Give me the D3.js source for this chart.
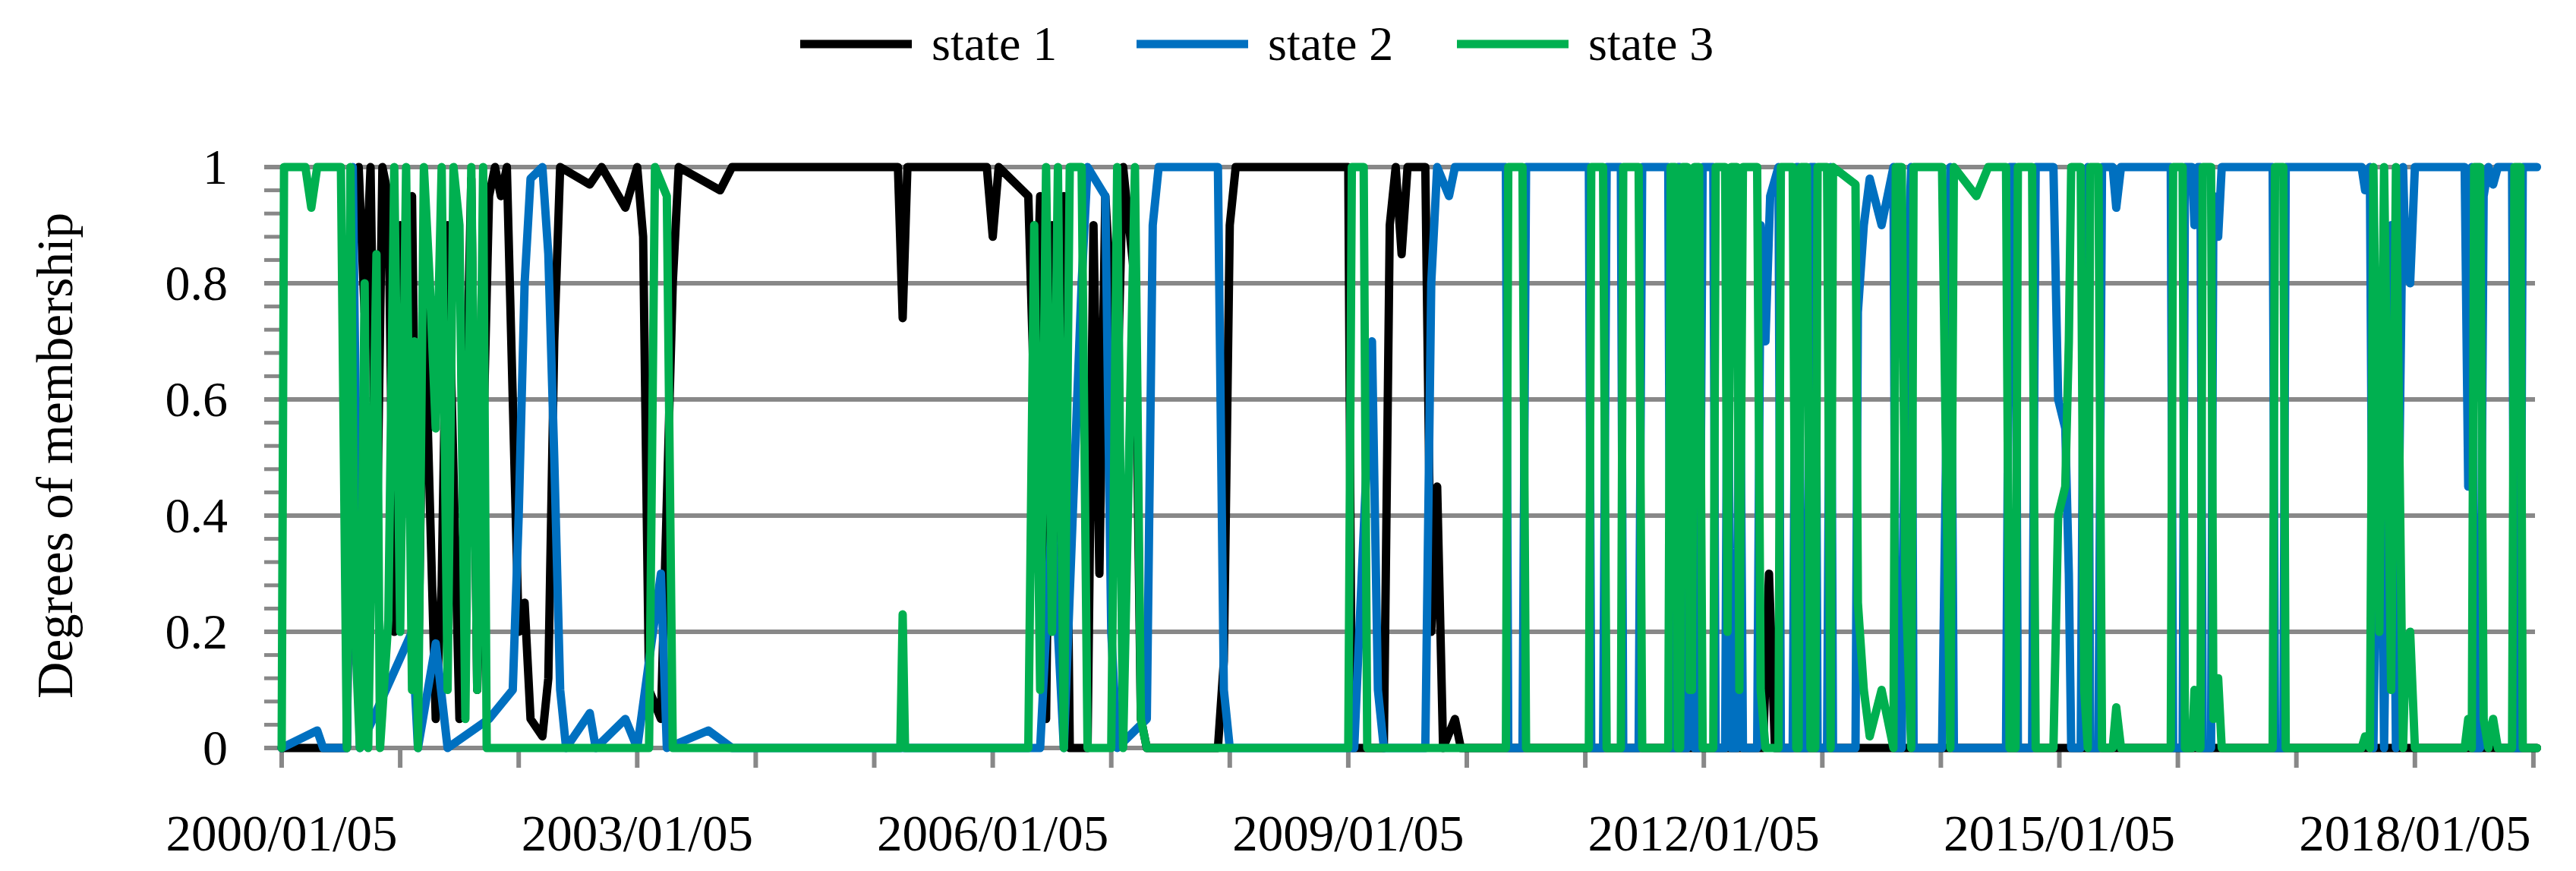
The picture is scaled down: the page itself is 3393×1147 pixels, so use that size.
<!DOCTYPE html>
<html><head><meta charset="utf-8">
<script src="https://cdn.jsdelivr.net/npm/d3@7"></script>
<style>body{margin:0;background:#fff}svg{display:block}</style>
</head><body>
<script>
const seriesNames = ["state 1","state 2","state 3"];
const seriesColors = ["#000000","#0070C0","#00B050"];
const yTicks = [0,0.2,0.4,0.6,0.8,1];
const xTickYears = [2000,2003,2006,2009,2012,2015,2018];
// [fractional year, degree of membership]
const state1 = [[2000.0,0],[2000.55,0],[2000.6,0.9],[2000.65,1],[2000.7,0.75],[2000.75,1],[2000.8,0.3],[2000.85,1],[2000.9,0.95],[2000.95,0.2],[2001.0,0.9],[2001.05,0.5],[2001.1,0.95],[2001.15,0.1],[2001.2,0.8],[2001.3,0.05],[2001.35,0.28],[2001.4,0.9],[2001.5,0.05],[2001.6,0.98],[2001.65,0.1],[2001.75,0.95],[2001.8,1],[2001.85,0.95],[2001.9,1],[2001.95,0.6],[2002.0,0.2],[2002.05,0.25],[2002.1,0.05],[2002.2,0.02],[2002.25,0.12],[2002.3,0.7],[2002.35,1],[2002.6,0.97],[2002.7,1],[2002.9,0.93],[2003.0,1],[2003.05,0.88],[2003.1,0.1],[2003.2,0.05],[2003.3,0.8],[2003.35,1],[2003.7,0.96],[2003.8,1],[2005.2,1],[2005.24,0.74],[2005.28,1],[2005.95,1],[2006.0,0.88],[2006.05,1],[2006.3,0.95],[2006.35,0.6],[2006.4,0.95],[2006.45,0.05],[2006.5,0.9],[2006.55,0.2],[2006.6,0.95],[2006.65,0],[2006.8,0],[2006.85,0.9],[2006.9,0.3],[2006.95,0.95],[2007.05,0.6],[2007.1,1],[2007.2,0.8],[2007.25,0.05],[2007.3,0],[2007.9,0],[2007.95,0.15],[2008.0,0.9],[2008.05,1],[2009.0,1],[2009.03,0],[2009.3,0],[2009.35,0.9],[2009.4,1],[2009.45,0.85],[2009.5,1],[2009.65,1],[2009.7,0.2],[2009.75,0.45],[2009.8,0],[2009.9,0.05],[2009.95,0],[2012.5,0],[2012.55,0.3],[2012.6,0],[2019.03,0]];
const state2 = [[2000.0,0],[2000.3,0.03],[2000.35,0],[2000.55,0],[2000.6,1],[2000.63,0.5],[2000.66,0],[2001.1,0.2],[2001.15,0],[2001.3,0.18],[2001.4,0],[2001.75,0.05],[2001.95,0.1],[2002.0,0.4],[2002.05,0.8],[2002.1,0.98],[2002.2,1],[2002.25,0.85],[2002.3,0.5],[2002.35,0.1],[2002.4,0],[2002.6,0.06],[2002.65,0],[2002.9,0.05],[2003.0,0],[2003.2,0.3],[2003.25,0],[2003.6,0.03],[2003.8,0],[2006.4,0],[2006.5,0.4],[2006.6,0],[2006.75,0.8],[2006.8,1],[2006.95,0.95],[2007.0,0.2],[2007.05,0],[2007.3,0.05],[2007.35,0.9],[2007.4,1],[2007.9,1],[2007.95,0.1],[2008.0,0],[2009.05,0],[2009.2,0.7],[2009.25,0.1],[2009.3,0],[2009.65,0],[2009.7,0.8],[2009.75,1],[2009.85,0.95],[2009.9,1],[2010.33,1],[2010.35,0],[2010.47,0],[2010.5,1],[2011.03,1],[2011.05,0],[2011.15,0],[2011.18,1],[2011.3,1],[2011.32,0],[2011.45,0],[2011.48,1],[2011.7,1],[2011.72,0],[2011.76,0],[2011.78,1],[2011.8,1],[2011.82,0],[2011.86,0],[2011.88,0.9],[2011.9,0.9],[2011.92,0],[2011.96,0],[2011.99,1],[2012.08,1],[2012.1,0],[2012.18,0],[2012.2,0.8],[2012.23,0],[2012.28,0],[2012.3,0.9],[2012.33,0],[2012.45,0],[2012.48,0.9],[2012.52,0.7],[2012.56,0.95],[2012.63,1],[2012.65,0],[2012.75,0],[2012.78,1],[2012.8,1],[2012.82,0],[2012.87,0],[2012.9,1],[2012.94,1],[2012.96,0],[2013.04,0],[2013.07,1],[2013.09,0],[2013.28,0],[2013.3,0.75],[2013.35,0.9],[2013.4,0.98],[2013.5,0.9],[2013.6,1],[2013.62,0],[2013.67,0],[2013.7,0.7],[2013.75,1],[2013.77,0],[2014.01,0],[2014.04,0.45],[2014.08,1],[2014.11,0],[2014.55,0],[2014.58,1],[2014.63,1],[2014.65,0],[2014.77,0],[2014.8,1],[2014.95,1],[2014.99,0.6],[2015.05,0.55],[2015.08,0.3],[2015.1,0],[2015.18,0],[2015.21,0.9],[2015.24,1],[2015.26,0],[2015.33,0],[2015.36,1],[2015.45,1],[2015.48,0.93],[2015.52,1],[2015.94,1],[2015.96,0],[2016.04,0],[2016.06,1],[2016.12,1],[2016.14,0.9],[2016.17,1],[2016.19,1],[2016.21,0],[2016.28,0],[2016.3,0.95],[2016.34,0.88],[2016.37,1],[2016.8,1],[2016.82,0],[2016.89,0],[2016.91,1],[2017.55,1],[2017.58,0.96],[2017.62,1],[2017.65,0],[2017.7,0.8],[2017.74,0],[2017.8,0.9],[2017.84,0],[2017.9,1],[2017.92,0.85],[2017.96,0.8],[2018.0,1],[2018.42,1],[2018.45,0.45],[2018.48,1],[2018.5,0],[2018.55,0],[2018.58,0.95],[2018.62,1],[2018.66,0.97],[2018.7,1],[2018.82,1],[2018.84,0],[2018.89,0],[2018.91,1],[2019.03,1]];
const state3 = [[2000.0,0],[2000.02,1],[2000.2,1],[2000.25,0.93],[2000.3,1],[2000.5,1],[2000.55,0],[2000.58,1],[2000.62,0.2],[2000.66,0],[2000.7,0.8],[2000.73,0],[2000.8,0.85],[2000.83,0],[2000.9,0.22],[2000.95,1],[2001.0,0.2],[2001.05,1],[2001.1,0.1],[2001.12,0.7],[2001.15,0],[2001.2,1],[2001.25,0.8],[2001.3,0.55],[2001.35,1],[2001.4,0.1],[2001.45,1],[2001.5,0.9],[2001.55,0.05],[2001.6,1],[2001.65,0.1],[2001.7,1],[2001.73,0],[2003.1,0],[2003.15,1],[2003.25,0.95],[2003.3,0],[2005.22,0],[2005.24,0.23],[2005.26,0],[2006.3,0],[2006.35,0.9],[2006.4,0.1],[2006.45,1],[2006.5,0.2],[2006.55,1],[2006.6,0],[2006.65,1],[2006.75,1],[2006.8,0],[2007.0,0],[2007.05,1],[2007.1,0],[2007.2,1],[2007.25,0.05],[2007.3,0],[2009.0,0],[2009.03,1],[2009.13,1],[2009.16,0],[2010.33,0],[2010.35,1],[2010.47,1],[2010.5,0],[2011.03,0],[2011.05,1],[2011.15,1],[2011.18,0],[2011.3,0],[2011.32,1],[2011.45,1],[2011.48,0],[2011.7,0],[2011.72,1],[2011.76,1],[2011.78,0],[2011.8,0],[2011.82,1],[2011.86,1],[2011.88,0.1],[2011.9,0.1],[2011.92,1],[2011.96,1],[2011.99,0],[2012.08,0],[2012.1,1],[2012.18,1],[2012.2,0.2],[2012.23,1],[2012.28,1],[2012.3,0.1],[2012.33,1],[2012.45,1],[2012.48,0.1],[2012.52,0],[2012.63,0],[2012.65,1],[2012.75,1],[2012.78,0],[2012.8,0],[2012.82,1],[2012.87,1],[2012.9,0],[2012.94,0],[2012.96,1],[2013.04,1],[2013.07,0],[2013.09,1],[2013.28,0.97],[2013.3,0.25],[2013.35,0.1],[2013.4,0.02],[2013.5,0.1],[2013.6,0],[2013.62,1],[2013.67,1],[2013.7,0.3],[2013.75,0],[2013.77,1],[2014.01,1],[2014.04,0.55],[2014.08,0],[2014.11,1],[2014.3,0.95],[2014.4,1],[2014.55,1],[2014.58,0],[2014.63,0],[2014.65,1],[2014.77,1],[2014.8,0],[2014.95,0],[2014.99,0.4],[2015.05,0.45],[2015.08,0.7],[2015.1,1],[2015.18,1],[2015.21,0.1],[2015.24,0],[2015.26,1],[2015.33,1],[2015.36,0],[2015.45,0],[2015.48,0.07],[2015.52,0],[2015.94,0],[2015.96,1],[2016.04,1],[2016.06,0],[2016.12,0],[2016.14,0.1],[2016.17,0],[2016.19,0],[2016.21,1],[2016.28,1],[2016.3,0.05],[2016.34,0.12],[2016.37,0],[2016.8,0],[2016.82,1],[2016.89,1],[2016.91,0],[2017.55,0],[2017.58,0.02],[2017.62,0],[2017.65,1],[2017.7,0.2],[2017.74,1],[2017.8,0.1],[2017.84,1],[2017.9,0],[2017.92,0.15],[2017.96,0.2],[2018.0,0],[2018.42,0],[2018.45,0.05],[2018.48,0],[2018.5,1],[2018.55,1],[2018.58,0.05],[2018.62,0],[2018.66,0.05],[2018.7,0],[2018.82,0],[2018.84,1],[2018.89,1],[2018.91,0],[2019.03,0]];
const allSeries = [state1, state2, state3];

const W = 3393, H = 1147;
const svg = d3.select("body").append("svg").attr("width", W).attr("height", H);
const FONT = "'Liberation Serif','DejaVu Serif',serif";
const x = d3.scaleLinear().domain([2000, 2019]).range([371, 371 + 156.1*19]);
const y = d3.scaleLinear().domain([0, 1]).range([985, 220]);
const xEnd = 3339;

const g = svg.append("g");
g.selectAll(".minor").data(d3.range(0, 26)).join("line")
  .attr("x1", 348).attr("x2", 371)
  .attr("y1", d => y(d*0.04)).attr("y2", d => y(d*0.04))
  .attr("stroke", "#888").attr("stroke-width", 5);
g.selectAll(".grid").data(yTicks).join("line")
  .attr("x1", 348).attr("x2", xEnd)
  .attr("y1", d => y(d)).attr("y2", d => y(d))
  .attr("stroke", "#888").attr("stroke-width", 6);
g.selectAll(".yl").data(yTicks).join("text")
  .attr("x", 300).attr("y", d => y(d)).attr("dy", "0.33em")
  .attr("text-anchor", "end").attr("font-family", FONT).attr("font-size", 66)
  .text(d => d3.format("~g")(d));
g.selectAll(".xt").data(d3.range(2000, 2020)).join("line")
  .attr("x1", d => x(d)).attr("x2", d => x(d))
  .attr("y1", 985).attr("y2", 1011).attr("stroke", "#888").attr("stroke-width", 6);
g.selectAll(".xl").data(xTickYears).join("text")
  .attr("x", d => x(d)).attr("y", 1120).attr("text-anchor", "middle")
  .attr("font-family", FONT).attr("font-size", 67)
  .text(d => d + "/01/05");
svg.append("text").attr("transform", "translate(95,600) rotate(-90)")
  .attr("text-anchor", "middle").attr("font-family", FONT).attr("font-size", 67)
  .text("Degrees of membership");

const line = d3.line().x(d => x(d[0])).y(d => y(d[1]));
allSeries.forEach((s, i) => {
  svg.append("path").attr("d", line(s)).attr("fill", "none")
    .attr("stroke", seriesColors[i]).attr("stroke-width", 11)
    .attr("stroke-linejoin", "round").attr("stroke-linecap", "round");
});

const legX = [1054, 1497, 1919];
seriesNames.forEach((n, i) => {
  svg.append("line").attr("x1", legX[i]).attr("x2", legX[i] + 147)
    .attr("y1", 58).attr("y2", 58).attr("stroke", seriesColors[i]).attr("stroke-width", 11);
  svg.append("text").attr("x", legX[i] + 173).attr("y", 58).attr("dy", "0.33em")
    .attr("font-family", FONT).attr("font-size", 64).text(n);
});
</script>
</body></html>
